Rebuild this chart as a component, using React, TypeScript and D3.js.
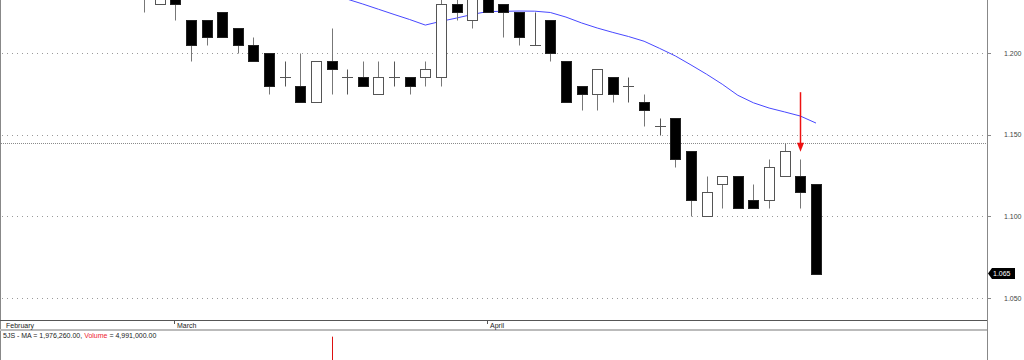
import React from "react";
import * as d3 from "d3";

// ---- data ----
const dates = [
  "27 Feb", "28 Feb",
  "1 Mar", "4 Mar", "5 Mar", "6 Mar", "7 Mar", "8 Mar", "11 Mar", "12 Mar", "13 Mar", "14 Mar",
  "15 Mar", "18 Mar", "19 Mar", "20 Mar", "21 Mar", "22 Mar", "25 Mar", "26 Mar", "27 Mar", "28 Mar",
  "1 Apr", "2 Apr", "3 Apr", "4 Apr", "5 Apr", "8 Apr", "9 Apr", "10 Apr", "11 Apr", "12 Apr",
  "15 Apr", "16 Apr", "17 Apr", "18 Apr", "19 Apr", "22 Apr", "23 Apr", "24 Apr", "25 Apr", "26 Apr",
  "29 Apr", "30 Apr",
];
const opens = [
  1.240, 1.230, 1.240, 1.220, 1.220, 1.225, 1.215, 1.205, 1.200, 1.185, 1.180, 1.170,
  1.195, 1.185, 1.185, 1.175, 1.185, 1.185, 1.185, 1.185, 1.230, 1.220,
  1.235, 1.230, 1.225, 1.205, 1.220, 1.195, 1.180, 1.175, 1.185, 1.180,
  1.170, 1.155, 1.160, 1.140, 1.100, 1.120, 1.125, 1.110, 1.110, 1.125,
  1.125, 1.120,
];
const highs = [
  1.245, 1.240, 1.240, 1.220, 1.220, 1.225, 1.215, 1.210, 1.200, 1.195, 1.200, 1.195,
  1.215, 1.190, 1.195, 1.195, 1.195, 1.185, 1.195, 1.240, 1.240, 1.240,
  1.240, 1.230, 1.225, 1.225, 1.220, 1.195, 1.180, 1.190, 1.185, 1.185,
  1.175, 1.160, 1.160, 1.140, 1.125, 1.125, 1.125, 1.120, 1.135, 1.145,
  1.135, 1.120,
];
const lows = [
  1.225, 1.230, 1.220, 1.195, 1.205, 1.210, 1.200, 1.195, 1.175, 1.180, 1.170, 1.170,
  1.175, 1.175, 1.180, 1.175, 1.180, 1.175, 1.180, 1.180, 1.220, 1.215,
  1.225, 1.210, 1.205, 1.205, 1.195, 1.170, 1.165, 1.165, 1.170, 1.170,
  1.155, 1.150, 1.130, 1.100, 1.100, 1.105, 1.105, 1.105, 1.105, 1.125,
  1.105, 1.065,
];
const closes = [
  1.235, 1.240, 1.230, 1.205, 1.210, 1.210, 1.205, 1.195, 1.180, 1.185, 1.170, 1.195,
  1.190, 1.185, 1.180, 1.185, 1.185, 1.180, 1.190, 1.230, 1.225, 1.235,
  1.225, 1.225, 1.210, 1.205, 1.200, 1.170, 1.175, 1.190, 1.175, 1.180,
  1.165, 1.155, 1.135, 1.110, 1.115, 1.125, 1.105, 1.105, 1.130, 1.140,
  1.115, 1.065,
];
const movingAvg: (number | null)[] = [
  null, null, null, null, null, null, null, null, null, null, null, null,
  1.2361, 1.2330, 1.2300, 1.2268, 1.2236, 1.2205, 1.2171, 1.2194, 1.2214, 1.2236,
  1.2254, 1.2255, 1.2257, 1.2256, 1.2248, 1.2220, 1.2184, 1.2153, 1.2126, 1.2101,
  1.2072, 1.2028, 1.1982, 1.1927, 1.1870, 1.1809, 1.1741, 1.1695, 1.1663, 1.1639,
  1.1614, 1.1571,
];
const volumes = [
  1800000, 2100000, 1500000, 2400000, 1900000, 1300000, 1700000, 2200000, 2600000, 1400000, 1900000, 2300000,
  14600000, 2800000, 1600000, 1200000, 1500000, 1100000, 1700000, 3900000, 2500000, 1800000,
  1600000, 1400000, 2000000, 1300000, 2200000, 3100000, 1900000, 1500000, 1200000, 1000000,
  1700000, 1400000, 2900000, 3600000, 2300000, 1500000, 2100000, 1300000, 1800000, 2400000,
  2700000, 4991000,
];
const volumeMA = 1976260;
const priceTicks = [1.05, 1.1, 1.15, 1.2];
const refLevel = 1.145;
const arrowIndex = 42;
const arrowFrom = 1.176;
const arrowTo = 1.1395;
const monthNames: Record<string, string> = { Feb: "February", Mar: "March", Apr: "April" };
const ticker = "5JS";

export default function App() {
  const W = 1024, H = 360;
  const axisX = 987;
  const paneBottom = 320;
  const x = d3.scaleLinear().domain([0, dates.length - 1]).range([144, 816]);
  const y = d3.scaleLinear().domain([1.05, 1.2]).range([298, 53]);
  const yVol = d3.scaleLinear().domain([0, 15000000]).range([470, 333]);
  const px = (i: number) => Math.round(x(i)) + 0.5;
  const py = (v: number) => Math.round(y(v)) + 0.5;

  const maLine = d3
    .line<number | null>()
    .defined((d) => d !== null)
    .x((_, i) => x(i))
    .y((d) => y(d as number));

  // month boundaries
  const months: { label: string; i: number }[] = [];
  dates.forEach((d, i) => {
    const m = d.split(" ")[1];
    const prev = i > 0 ? dates[i - 1].split(" ")[1] : null;
    if (prev !== null && prev !== m) months.push({ label: monthNames[m], i });
  });
  const firstMonth = monthNames[dates[0].split(" ")[1]];

  const fmtP = d3.format(".3f");
  const fmtV = d3.format(",.2f");
  const font = "'Liberation Sans', Arial, sans-serif";
  const last = closes[closes.length - 1];
  const ly = y(last);

  return (
    <svg
      width={W}
      height={H}
      style={{ position: "fixed", left: 0, top: 0, background: "#fff" }}
      fontFamily={font}
    >
      <defs>
        <clipPath id="plot">
          <rect x={1} y={0} width={axisX - 1} height={paneBottom} />
        </clipPath>
      </defs>
      <rect x={0} y={0} width={W} height={H} fill="#fff" />

      {/* grid */}
      {priceTicks.map((t) => (
        <g key={t}>
          <line x1={2} x2={axisX - 3} y1={py(t)} y2={py(t)} stroke="#9a9a9a" strokeDasharray="1,4" />
          <line x1={axisX} x2={axisX + 4} y1={py(t)} y2={py(t)} stroke="#888" />
          <text x={1004} y={y(t) + 2.5} fontSize={7} fill="#444">
            {fmtP(t)}
          </text>
        </g>
      ))}
      <line x1={1} x2={axisX} y1={py(refLevel)} y2={py(refLevel)} stroke="#8a8a8a" strokeDasharray="1,1" />

      <g clipPath="url(#plot)">
        {/* moving average */}
        <path d={maLine(movingAvg) || ""} fill="none" stroke="#4848ff" strokeWidth={1} />
        {/* candles */}
        {dates.map((d, i) => {
          const o = opens[i], c = closes[i], h = highs[i], l = lows[i];
          const cx = px(i);
          const up = c > o;
          const top = py(Math.max(o, c));
          const bot = py(Math.min(o, c));
          if (o === c) {
            return (
              <g key={d}>
                <line x1={cx} x2={cx} y1={py(h)} y2={py(l)} stroke="#555" />
                <line x1={cx - 5.5} x2={cx + 5.5} y1={top} y2={top} stroke="#555" />
              </g>
            );
          }
          return (
            <g key={d}>
              <line x1={cx} x2={cx} y1={py(h)} y2={py(l)} stroke="#777" />
              <rect
                x={cx - 5}
                y={top}
                width={10}
                height={bot - top}
                fill={up ? "#fff" : "#000"}
                stroke={up ? "#555" : "#222"}
              />
            </g>
          );
        })}
        {/* signal arrow */}
        <line
          x1={px(arrowIndex)}
          x2={px(arrowIndex)}
          y1={y(arrowFrom)}
          y2={y(arrowTo) - 6}
          stroke="#ee1111"
          strokeWidth={1.5}
        />
        <path
          d={`M${px(arrowIndex) - 3.5},${y(arrowTo) - 9} L${px(arrowIndex) + 3.5},${y(arrowTo) - 9} L${px(arrowIndex)},${y(arrowTo)} Z`}
          fill="#ee1111"
        />
      </g>

      {/* last price label */}
      <path
        d={`M${axisX + 1},${ly} L${axisX + 5},${ly - 5.5} L${axisX + 28},${ly - 5.5} L${axisX + 28},${ly + 5.5} L${axisX + 5},${ly + 5.5} Z`}
        fill="#000"
      />
      <text x={axisX + 6} y={ly + 2.5} fontSize={7} fill="#fff">
        {fmtP(last)}
      </text>

      {/* frame */}
      <line x1={0.5} x2={0.5} y1={0} y2={H} stroke="#888" />
      <line x1={axisX + 0.5} x2={axisX + 0.5} y1={0} y2={H} stroke="#888" />
      <line x1={0} x2={axisX} y1={paneBottom + 0.5} y2={paneBottom + 0.5} stroke="#555" />
      <line x1={0} x2={axisX} y1={330} y2={330} stroke="#bbb" strokeWidth={2} />

      {/* month axis */}
      <text x={6} y={327.5} fontSize={7} fill="#222">
        {firstMonth}
      </text>
      {months.map((m) => (
        <g key={m.label}>
          <line x1={px(m.i) - 1} x2={px(m.i) - 1} y1={321} y2={324} stroke="#555" />
          <text x={px(m.i) + 1.5} y={327.5} fontSize={7} fill="#222">
            {m.label}
          </text>
        </g>
      ))}

      {/* volume pane */}
      <text x={3} y={338} fontSize={7} fill="#222">
        {`${ticker} - MA = ${fmtV(volumeMA)}, `}
        <tspan fill="#ee2233">Volume</tspan>
        {` = ${fmtV(volumes[volumes.length - 1])}`}
      </text>
      <g>
        {volumes.map((v, i) => (
          <line key={i} x1={px(i)} x2={px(i)} y1={yVol(v)} y2={470} stroke="#dd1111" />
        ))}
      </g>
    </svg>
  );
}
